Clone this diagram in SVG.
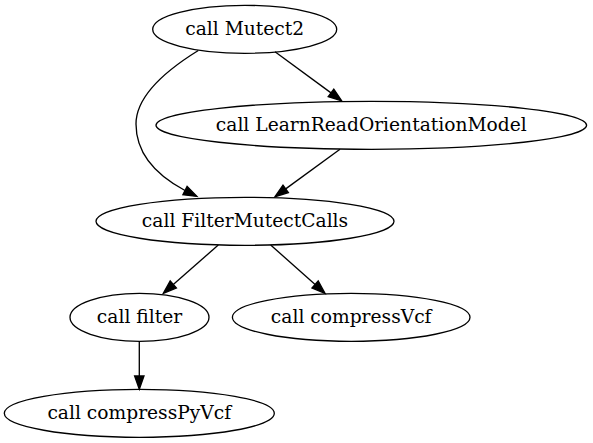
<svg xmlns="http://www.w3.org/2000/svg" width="593" height="443" viewBox="0 0 593 443">
<style>
.node ellipse{fill:none;stroke:#000;stroke-width:1.33}
.node text{font-family:"DejaVu Serif","Liberation Serif",serif;font-size:18.67px;text-anchor:middle;fill:#000}
.edge path{fill:none;stroke:#000;stroke-width:1.33}
.edge polygon{fill:#000;stroke:#000;stroke-width:1.33}
</style>
<rect width="593" height="443" fill="#fff"/>
<g id="edges">
<g class="edge" id="e_mutect2_lrom">
<path d="M275,51.7 L331,92.9"/>
<polygon points="341.7,100.8 328.2,96.7 333.8,89.1"/>
</g>
<g class="edge" id="e_mutect2_fmc">
<path d="M198.3,50.5 C170,68 136,95 136,124 C136,154 156,175 185,190.5"/>
<polygon points="196.9,196.4 182.9,194.7 187.1,186.3"/>
</g>
<g class="edge" id="e_lrom_fmc">
<path d="M340,149.3 L285.7,188.9"/>
<polygon points="275,196.7 283,185.1 288.4,192.6"/>
</g>
<g class="edge" id="e_fmc_filter">
<path d="M218.3,245 L173.3,284.5"/>
<polygon points="163.3,293.3 170.2,281 176.4,288"/>
</g>
<g class="edge" id="e_fmc_compressvcf">
<path d="M270.7,245 L315.1,284.5"/>
<polygon points="325,293.3 318.2,281 312,288"/>
</g>
<g class="edge" id="e_filter_compresspyvcf">
<path d="M139.3,341.3 L139.3,376"/>
<polygon points="139.3,389.3 134.6,376 144,376"/>
</g>
</g>
<g class="node" id="n_mutect2">
<ellipse cx="244.7" cy="29.3" rx="92" ry="24"/>
<text x="244.7" y="34.9">call Mutect2</text>
</g>
<g class="node" id="n_lrom">
<ellipse cx="371.3" cy="125.3" rx="215.3" ry="24"/>
<text x="371.3" y="130.9">call LearnReadOrientationModel</text>
</g>
<g class="node" id="n_fmc">
<ellipse cx="245" cy="221.3" rx="149" ry="24"/>
<text x="245" y="226.9">call FilterMutectCalls</text>
</g>
<g class="node" id="n_filter">
<ellipse cx="139.5" cy="317.3" rx="69.5" ry="24"/>
<text x="139.5" y="322.9">call filter</text>
</g>
<g class="node" id="n_compressvcf">
<ellipse cx="351.2" cy="317.3" rx="118.8" ry="24"/>
<text x="351.2" y="322.9">call compressVcf</text>
</g>
<g class="node" id="n_compresspyvcf">
<ellipse cx="139.3" cy="413.3" rx="135" ry="24"/>
<text x="139.3" y="418.9">call compressPyVcf</text>
</g>
</svg>
